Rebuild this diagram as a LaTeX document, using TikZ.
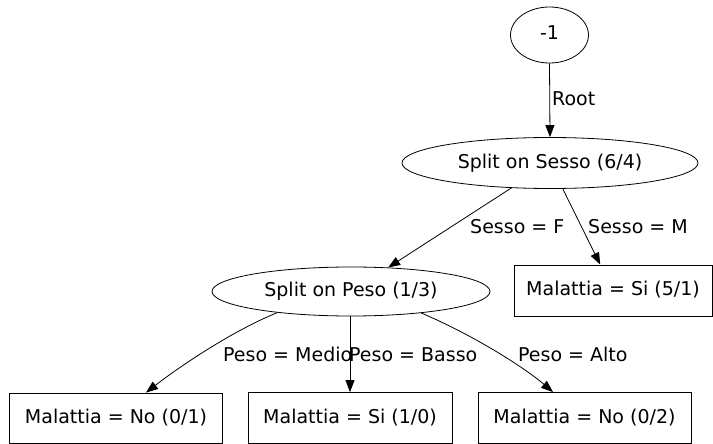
\documentclass[tikz,border=0pt]{standalone}
\usepackage{fontspec}
\setmainfont{DejaVu Sans}
\usetikzlibrary{shapes.geometric,arrows.meta}
\begin{document}
\begin{tikzpicture}[x=1pt,y=-1pt,
  font=\fontsize{19pt}{22pt}\selectfont,
  every node/.style={inner sep=0pt, text height=14pt, text depth=4pt},
  ell/.style={draw, ellipse, line width=0.8pt},
  leaf/.style={draw, rectangle, line width=0.8pt},
  edge/.style={line width=0.8pt, -{Triangle[length=12pt,width=9pt]}},
  lab/.style={anchor=base west, text height=, text depth=}]
\useasboundingbox (0,0) rectangle (713,444);
\node[ell, minimum width=78pt, minimum height=56pt] (root) at (549.5,35) {-1};
\node[ell, minimum width=296pt, minimum height=51pt] (s1) at (550,163) {Split on Sesso (6/4)};
\node[ell, minimum width=278pt, minimum height=49pt] (s2) at (351,291.5) {Split on Peso (1/3)};
\node[leaf, minimum width=198pt, minimum height=51pt] (l1) at (613,290.5) {Malattia = Si (5/1)};
\node[leaf, minimum width=213pt, minimum height=50pt] (l2) at (116,418) {Malattia = No (0/1)};
\node[leaf, minimum width=204pt, minimum height=51pt] (l3) at (350,418) {Malattia = Si (1/0)};
\node[leaf, minimum width=213pt, minimum height=51pt] (l4) at (584.5,418) {Malattia = No (0/2)};

\draw[edge] (root.south) -- (s1.north);
\draw[edge] (s1) -- (s2);
\draw[edge] (s1) -- (l1);
\draw[edge] (s2.196) .. controls (232,331) and (179,367) .. ([xshift=30pt]l2.north);
\draw[edge] (s2.south -| l3.north) -- (l3.north);
\draw[edge] (s2.343) .. controls (475,336) and (525,368) .. ([xshift=-31.5pt]l4.north);

\node[lab] (lroot) at (552,106) {Root};
\node[lab] (lf) at (470,233) {Sesso = F};
\node[lab] (lm) at (588,233) {Sesso = M};
\node[lab] (lmed) at (223,361) {Peso = Medio};
\node[lab] (lbas) at (349,361) {Peso = Basso};
\node[lab] (lalt) at (518,361) {Peso = Alto};
\end{tikzpicture}
\end{document}
